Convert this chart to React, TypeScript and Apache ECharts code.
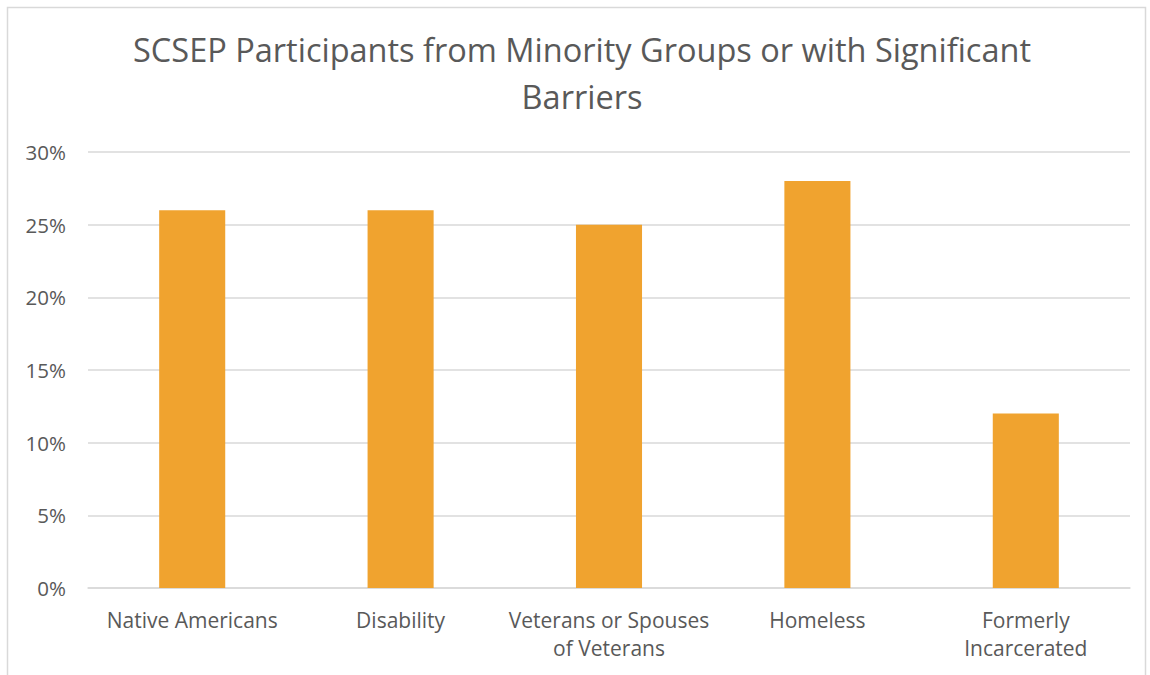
import React, { useEffect, useRef } from "react";
import * as echarts from "echarts";

const categories = [
  "Native Americans",
  "Disability",
  "Veterans or Spouses\nof Veterans",
  "Homeless",
  "Formerly\nIncarcerated",
];
const values = [26, 26, 25, 28, 12];
const yTicks = [0, 5, 10, 15, 20, 25, 30];
const titleText = "SCSEP Participants from Minority Groups or with Significant\nBarriers";

export default function App() {
  const ref = useRef<HTMLDivElement>(null);
  useEffect(() => {
    if (!ref.current) return;
    const chart = echarts.init(ref.current, undefined, { renderer: "svg" });
    chart.setOption({
      animation: false,
      backgroundColor: "#ffffff",
      textStyle: { fontFamily: "Open Sans" },
      title: {
        text: titleText,
        left: 577,
        textAlign: "center",
        top: 21,
        textStyle: {
          fontFamily: "Open Sans",
          fontSize: 32.5,
          fontWeight: "normal",
          color: "#595959",
          lineHeight: 47,
        },
      },
      graphic: [
        {
          type: "rect",
          shape: { x: 7.5, y: 7.5, width: 1138, height: 700 },
          style: { fill: "none", stroke: "#d9d9d9", lineWidth: 1.5 },
          silent: true,
        },
      ],
      grid: { left: 88, right: 20, top: 152, bottom: 87, containLabel: false },
      xAxis: {
        type: "category",
        data: categories,
        axisLine: { show: true, lineStyle: { color: "#d9d9d9", width: 1.5 } },
        axisTick: { show: false },
        axisLabel: {
          color: "#595959",
          fontSize: 21,
          fontFamily: "Open Sans",
          margin: 18,
          lineHeight: 28,
          interval: 0,
        },
      },
      yAxis: {
        type: "value",
        min: yTicks[0],
        max: yTicks[yTicks.length - 1],
        interval: 5,
        axisLine: { show: false },
        axisTick: { show: false },
        splitLine: { lineStyle: { color: "#d9d9d9", width: 1.5 } },
        axisLabel: {
          color: "#595959",
          fontSize: 20.5,
          fontFamily: "Open Sans",
          margin: 22,
          formatter: (v: number) => `${v}%`,
        },
      },
      series: [
        {
          type: "bar",
          data: values,
          barWidth: "31.7%",
          itemStyle: { color: "#F0A32F" },
        },
      ],
    });
    return () => chart.dispose();
  }, []);
  return (
    <div
      ref={ref}
      style={{ position: "absolute", left: 0, top: 0, width: 1150, height: 675 }}
    />
  );
}
